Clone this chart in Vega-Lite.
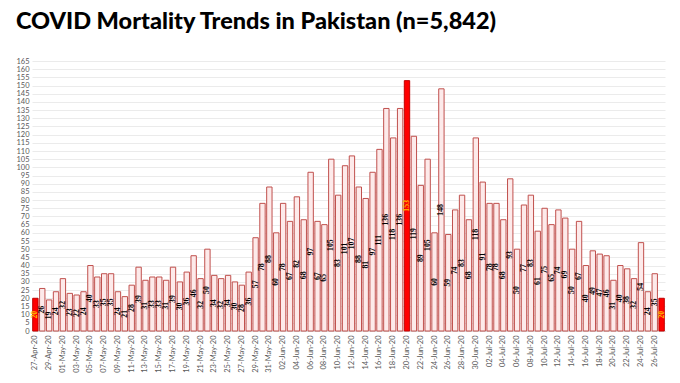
{
  "$schema": "https://vega.github.io/schema/vega-lite/v6.json",
  "width": 680,
  "height": 383,
  "autosize": {"type": "fit", "contains": "padding"},
  "padding": {"left": 15, "right": 14, "top": 9, "bottom": 10},
  "background": "white",
  "title": {
    "text": "COVID Mortality Trends in Pakistan (n=5,842)",
    "font": "Lato",
    "fontSize": 23.5,
    "fontWeight": 900,
    "color": "#000000",
    "anchor": "start",
    "frame": "bounds",
    "offset": 24
  },
  "config": {
    "view": {"stroke": null},
    "font": "Lato"
  },
  "data": {
    "values": [
      {"date": "27-Apr-20", "deaths": 20}, {"date": "28-Apr-20", "deaths": 26}, {"date": "29-Apr-20", "deaths": 19}, {"date": "30-Apr-20", "deaths": 24},
      {"date": "01-May-20", "deaths": 32}, {"date": "02-May-20", "deaths": 23}, {"date": "03-May-20", "deaths": 22}, {"date": "04-May-20", "deaths": 24},
      {"date": "05-May-20", "deaths": 40}, {"date": "06-May-20", "deaths": 33}, {"date": "07-May-20", "deaths": 35}, {"date": "08-May-20", "deaths": 35},
      {"date": "09-May-20", "deaths": 24}, {"date": "10-May-20", "deaths": 21}, {"date": "11-May-20", "deaths": 28}, {"date": "12-May-20", "deaths": 39},
      {"date": "13-May-20", "deaths": 31}, {"date": "14-May-20", "deaths": 33}, {"date": "15-May-20", "deaths": 33}, {"date": "16-May-20", "deaths": 31},
      {"date": "17-May-20", "deaths": 39}, {"date": "18-May-20", "deaths": 30}, {"date": "19-May-20", "deaths": 36}, {"date": "20-May-20", "deaths": 46},
      {"date": "21-May-20", "deaths": 32}, {"date": "22-May-20", "deaths": 50}, {"date": "23-May-20", "deaths": 34}, {"date": "24-May-20", "deaths": 32},
      {"date": "25-May-20", "deaths": 34}, {"date": "26-May-20", "deaths": 30}, {"date": "27-May-20", "deaths": 28}, {"date": "28-May-20", "deaths": 36},
      {"date": "29-May-20", "deaths": 57}, {"date": "30-May-20", "deaths": 78}, {"date": "31-May-20", "deaths": 88},
      {"date": "01-Jun-20", "deaths": 60}, {"date": "02-Jun-20", "deaths": 78}, {"date": "03-Jun-20", "deaths": 67}, {"date": "04-Jun-20", "deaths": 82},
      {"date": "05-Jun-20", "deaths": 68}, {"date": "06-Jun-20", "deaths": 97}, {"date": "07-Jun-20", "deaths": 67}, {"date": "08-Jun-20", "deaths": 65},
      {"date": "09-Jun-20", "deaths": 105}, {"date": "10-Jun-20", "deaths": 83}, {"date": "11-Jun-20", "deaths": 101}, {"date": "12-Jun-20", "deaths": 107},
      {"date": "13-Jun-20", "deaths": 88}, {"date": "14-Jun-20", "deaths": 81}, {"date": "15-Jun-20", "deaths": 97}, {"date": "16-Jun-20", "deaths": 111},
      {"date": "17-Jun-20", "deaths": 136}, {"date": "18-Jun-20", "deaths": 118}, {"date": "19-Jun-20", "deaths": 136}, {"date": "20-Jun-20", "deaths": 153},
      {"date": "21-Jun-20", "deaths": 119}, {"date": "22-Jun-20", "deaths": 89}, {"date": "23-Jun-20", "deaths": 105}, {"date": "24-Jun-20", "deaths": 60},
      {"date": "25-Jun-20", "deaths": 148}, {"date": "26-Jun-20", "deaths": 59}, {"date": "27-Jun-20", "deaths": 74}, {"date": "28-Jun-20", "deaths": 83},
      {"date": "29-Jun-20", "deaths": 68}, {"date": "30-Jun-20", "deaths": 118},
      {"date": "01-Jul-20", "deaths": 91}, {"date": "02-Jul-20", "deaths": 78}, {"date": "03-Jul-20", "deaths": 78}, {"date": "04-Jul-20", "deaths": 68},
      {"date": "05-Jul-20", "deaths": 93}, {"date": "06-Jul-20", "deaths": 50}, {"date": "07-Jul-20", "deaths": 77}, {"date": "08-Jul-20", "deaths": 83},
      {"date": "09-Jul-20", "deaths": 61}, {"date": "10-Jul-20", "deaths": 75}, {"date": "11-Jul-20", "deaths": 65}, {"date": "12-Jul-20", "deaths": 74},
      {"date": "13-Jul-20", "deaths": 69}, {"date": "14-Jul-20", "deaths": 50}, {"date": "15-Jul-20", "deaths": 67}, {"date": "16-Jul-20", "deaths": 40},
      {"date": "17-Jul-20", "deaths": 49}, {"date": "18-Jul-20", "deaths": 47}, {"date": "19-Jul-20", "deaths": 46}, {"date": "20-Jul-20", "deaths": 31},
      {"date": "21-Jul-20", "deaths": 40}, {"date": "22-Jul-20", "deaths": 38}, {"date": "23-Jul-20", "deaths": 32}, {"date": "24-Jul-20", "deaths": 54},
      {"date": "25-Jul-20", "deaths": 24}, {"date": "26-Jul-20", "deaths": 35}, {"date": "27-Jul-20", "deaths": 20}
    ]
  },
  "encoding": {
    "x": {
      "field": "date",
      "type": "ordinal",
      "sort": null,
      "scale": {"paddingInner": 0.22, "paddingOuter": 0.1},
      "axis": {
        "title": null,
        "labelAngle": -90,
        "labelFontSize": 7.5,
        "labelColor": "#595959",
        "labelPadding": 4,
        "ticks": false,
        "domainColor": "#d9d9d9",
        "values": ["27-Apr-20","29-Apr-20","01-May-20","03-May-20","05-May-20","07-May-20","09-May-20","11-May-20","13-May-20","15-May-20","17-May-20","19-May-20","21-May-20","23-May-20","25-May-20","27-May-20","29-May-20","31-May-20","02-Jun-20","04-Jun-20","06-Jun-20","08-Jun-20","10-Jun-20","12-Jun-20","14-Jun-20","16-Jun-20","18-Jun-20","20-Jun-20","22-Jun-20","24-Jun-20","26-Jun-20","28-Jun-20","30-Jun-20","02-Jul-20","04-Jul-20","06-Jul-20","08-Jul-20","10-Jul-20","12-Jul-20","14-Jul-20","16-Jul-20","18-Jul-20","20-Jul-20","22-Jul-20","24-Jul-20","26-Jul-20"]
      }
    }
  },
  "layer": [
    {
      "mark": {"type": "bar", "stroke": "#c0504d", "strokeWidth": 1},
      "encoding": {
        "y": {
          "field": "deaths",
          "type": "quantitative",
          "scale": {"domain": [0, 165], "nice": false},
          "axis": {
            "title": null,
            "values": [0,5,10,15,20,25,30,35,40,45,50,55,60,65,70,75,80,85,90,95,100,105,110,115,120,125,130,135,140,145,150,155,160,165],
            "labelFontSize": 7.5,
            "labelColor": "#595959",
            "labelPadding": 3,
            "ticks": false,
            "domain": false,
            "gridColor": "#e6e6e6",
            "gridWidth": 0.8
          }
        },
        "fill": {
          "condition": {"test": "datum.date === '27-Apr-20' || datum.date === '20-Jun-20' || datum.date === '27-Jul-20'", "value": "#ff0000"},
          "value": "#fdeaea"
        },
        "stroke": {
          "condition": {"test": "datum.date === '27-Apr-20' || datum.date === '20-Jun-20' || datum.date === '27-Jul-20'", "value": "#c00000"},
          "value": "#c0504d"
        }
      }
    },
    {
      "mark": {"type": "text", "angle": -90, "align": "center", "baseline": "middle", "fontSize": 7.8, "fontWeight": "bold", "font": "Liberation Sans Narrow"},
      "encoding": {
        "y": {
          "field": "deaths",
          "type": "quantitative",
          "scale": {"domain": [0, 330], "nice": false},
          "axis": null
        },
        "text": {"field": "deaths", "type": "quantitative"},
        "color": {
          "condition": {"test": "datum.date === '27-Apr-20' || datum.date === '20-Jun-20' || datum.date === '27-Jul-20'", "value": "#ffc000"},
          "value": "#000000"
        }
      }
    }
  ],
  "resolve": {"scale": {"y": "independent"}}
}
